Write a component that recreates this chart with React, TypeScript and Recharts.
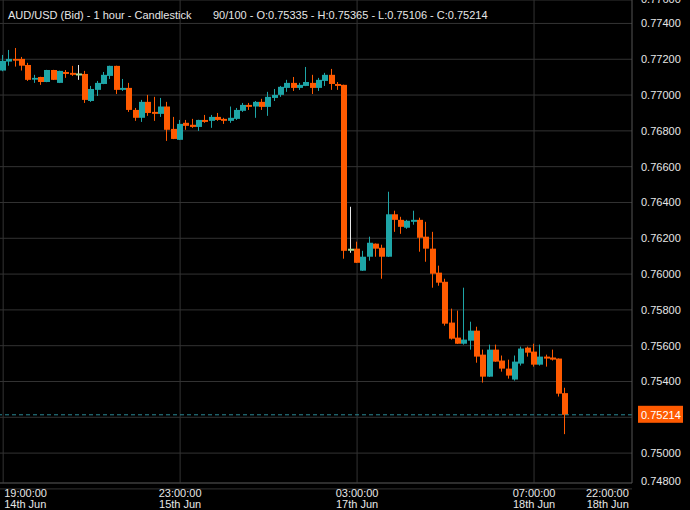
import React from 'react'
import { ComposedChart, Bar, XAxis, YAxis, CartesianGrid, ReferenceLine } from 'recharts'

const ORANGE = '#ff5a00'
const TEAL = '#1ea5a7'
const DOJI = '#a3d88e'
const TXT = '#e6e6e6'
const FONT = '"Liberation Sans", Arial, sans-serif'

// hourly candles (90 of 100 slots filled)
const opens = [
  0.77137, 0.77187, 0.77202, 0.77202, 0.77168, 0.77086, 0.77101, 0.77073, 0.77140, 0.77068,
  0.77129, 0.77124, 0.77115, 0.77118, 0.76967, 0.77029, 0.77062, 0.77107, 0.77163, 0.77029,
  0.77040, 0.76917, 0.76873, 0.76962, 0.76906, 0.76895, 0.76936, 0.76811, 0.76750, 0.76845,
  0.76834, 0.76822, 0.76861, 0.76856, 0.76878, 0.76867, 0.76856, 0.76867, 0.76912, 0.76945,
  0.76936, 0.76962, 0.76934, 0.76984, 0.77001, 0.77040, 0.77068, 0.77040, 0.77051, 0.77068,
  0.77040, 0.77079, 0.77113, 0.77062, 0.77057, 0.76136, 0.76142, 0.76019, 0.76097, 0.76170,
  0.76147, 0.76097, 0.76334, 0.76303, 0.76259, 0.76292, 0.76303, 0.76209, 0.76142, 0.76008,
  0.75957, 0.75729, 0.75645, 0.75611, 0.75628, 0.75684, 0.75550, 0.75427, 0.75578, 0.75517,
  0.75472, 0.75411, 0.75500, 0.75589, 0.75567, 0.75494, 0.75539, 0.75534, 0.75528, 0.75335,
]
const highs = [
  0.77224, 0.77252, 0.77263, 0.77213, 0.77180, 0.77113, 0.77102, 0.77141, 0.77141, 0.77136,
  0.77140, 0.77163, 0.77168, 0.77135, 0.77051, 0.77079, 0.77129, 0.77164, 0.77164, 0.77090,
  0.77068, 0.76928, 0.76973, 0.77001, 0.76990, 0.76984, 0.76962, 0.76878, 0.76861, 0.76861,
  0.76867, 0.76862, 0.76889, 0.76889, 0.76900, 0.76873, 0.76936, 0.76928, 0.76956, 0.76956,
  0.76967, 0.76979, 0.77018, 0.77034, 0.77051, 0.77085, 0.77101, 0.77068, 0.77157, 0.77113,
  0.77096, 0.77124, 0.77146, 0.77073, 0.77058, 0.76376, 0.76181, 0.76130, 0.76209, 0.76171,
  0.76164, 0.76460, 0.76354, 0.76320, 0.76303, 0.76354, 0.76315, 0.76292, 0.76236, 0.76047,
  0.75974, 0.75807, 0.75796, 0.75924, 0.75734, 0.75706, 0.75578, 0.75606, 0.75606, 0.75545,
  0.75522, 0.75545, 0.75595, 0.75595, 0.75611, 0.75606, 0.75550, 0.75578, 0.75529, 0.75365,
]
const lows = [
  0.77133, 0.77164, 0.77159, 0.77137, 0.77079, 0.77068, 0.77057, 0.77072, 0.77084, 0.77067,
  0.77096, 0.77107, 0.77085, 0.76956, 0.76962, 0.76995, 0.77061, 0.77090, 0.77006, 0.77023,
  0.76906, 0.76856, 0.76850, 0.76884, 0.76856, 0.76878, 0.76744, 0.76754, 0.76749, 0.76806,
  0.76817, 0.76800, 0.76845, 0.76817, 0.76856, 0.76839, 0.76845, 0.76861, 0.76906, 0.76917,
  0.76873, 0.76917, 0.76884, 0.76967, 0.76990, 0.77018, 0.77023, 0.77029, 0.77050, 0.77006,
  0.77023, 0.77051, 0.77029, 0.77029, 0.76086, 0.76119, 0.76062, 0.76018, 0.76075, 0.76097,
  0.75974, 0.76096, 0.76236, 0.76225, 0.76253, 0.76276, 0.76125, 0.76069, 0.75924, 0.75935,
  0.75712, 0.75634, 0.75610, 0.75606, 0.75578, 0.75505, 0.75394, 0.75426, 0.75510, 0.75455,
  0.75416, 0.75405, 0.75489, 0.75539, 0.75483, 0.75489, 0.75483, 0.75517, 0.75316, 0.75106,
]
const closes = [
  0.77191, 0.77202, 0.77192, 0.77164, 0.77085, 0.77096, 0.77073, 0.77140, 0.77085, 0.77135,
  0.77118, 0.77113, 0.77115, 0.76973, 0.77034, 0.77068, 0.77113, 0.77163, 0.77029, 0.77040,
  0.76917, 0.76873, 0.76962, 0.76900, 0.76895, 0.76936, 0.76806, 0.76755, 0.76839, 0.76828,
  0.76822, 0.76861, 0.76850, 0.76878, 0.76861, 0.76856, 0.76873, 0.76917, 0.76945, 0.76934,
  0.76962, 0.76934, 0.76990, 0.77001, 0.77046, 0.77068, 0.77040, 0.77057, 0.77073, 0.77040,
  0.77085, 0.77113, 0.77062, 0.77051, 0.76130, 0.76136, 0.76063, 0.76097, 0.76175, 0.76142,
  0.76097, 0.76334, 0.76303, 0.76264, 0.76298, 0.76303, 0.76203, 0.76142, 0.76002, 0.75952,
  0.75723, 0.75639, 0.75611, 0.75634, 0.75684, 0.75539, 0.75427, 0.75578, 0.75511, 0.75472,
  0.75433, 0.75511, 0.75584, 0.75561, 0.75494, 0.75539, 0.75528, 0.75522, 0.75332, 0.75214,
]

const slotCount = 100
const lastPrice = 0.75214
const yDomain = [0.74833, 0.77531]
const yTicks = [0.748, 0.75, 0.752, 0.754, 0.756, 0.758, 0.76, 0.762, 0.764, 0.766, 0.768, 0.77, 0.772, 0.774, 0.776]
const gridSlots = [0, 28, 56, 84]
const timeSlots = [0, 28, 56, 84, 99]
const timeLabels = ['19:00:00', '23:00:00', '03:00:00', '07:00:00', '22:00:00']
const dateLabels = ['14th Jun', '15th Jun', '17th Jun', '18th Jun', '18th Jun']

const rows = Array.from({ length: slotCount }, (_, t) =>
  t < opens.length ? { t, o: opens[t], h: highs[t], l: lows[t], c: closes[t] } : { t }
)

function Candle(props: any) {
  const { x, y, width, height, payload } = props
  if (!payload || payload.o == null) return <g />
  const { o, h, l, c } = payload
  const k = h > l ? Math.abs(height) / (h - l) : 0
  const yOf = (v: number) => y + (h - v) * k
  const color = o === c ? DOJI : c > o ? TEAL : ORANGE
  const wick = o === c ? '#e8e8e8' : color
  const bx = Math.round(x)
  const bw = Math.round(width)
  const top = yOf(Math.max(o, c))
  const bh = Math.max(yOf(Math.min(o, c)) - top, o === c ? 2 : 1)
  return (
    <g>
      <rect x={bx + 2} y={y} width={1} height={Math.abs(height)} fill={wick} />
      <rect x={bx} y={o === c ? top - 1 : top} width={bw} height={bh} fill={color} />
    </g>
  )
}

function XTick(props: any) {
  const { x, y, payload } = props
  const i = timeSlots.indexOf(payload.value)
  if (i < 0) return <g />
  const anchor = i === 0 ? 'start' : i === timeSlots.length - 1 ? 'end' : 'middle'
  const tx = i === 0 ? x + 1 : x
  return (
    <text fill={TXT} fontSize={11} fontFamily={FONT} textAnchor={anchor}>
      <tspan x={tx} y={y + 6}>{timeLabels[i]}</tspan>
      <tspan x={tx} y={y + 17}>{dateLabels[i]}</tspan>
    </text>
  )
}

function YTick(props: any) {
  const { x, y, payload } = props
  // the label under the last-price tag is hidden
  if (Math.abs(payload.value - lastPrice) < 0.0004) return <g />
  const ty = Math.min(Math.max(y, -1), 481)
  return (
    <text x={x + 1} y={ty + 4} fill={TXT} fontSize={11} fontFamily={FONT}>
      {Number(payload.value).toFixed(5)}
    </text>
  )
}

function PriceTag(props: any) {
  const vb = props.viewBox || {}
  const left = vb.x + vb.width + 6
  return (
    <g>
      <rect x={left} y={vb.y - 9} width={45} height={17} fill={ORANGE} />
      <text x={left + 3} y={vb.y + 4} fill="#fff" fontSize={11} fontFamily={FONT}>
        {lastPrice.toFixed(5)}
      </text>
    </g>
  )
}

export default function App() {
  return (
    <div style={{ position: 'relative', width: 690, height: 510, background: '#000' }}>
      <style>{'body{margin:0;background:#000}'}</style>
      <ComposedChart width={690} height={510} data={rows} margin={{ top: 0, right: 0, bottom: 0, left: 0 }}>
        <CartesianGrid stroke="#333" verticalValues={gridSlots} />
        <XAxis
          dataKey="t"
          type="category"
          height={27}
          interval={0}
          tickLine={false}
          axisLine={{ stroke: '#444' }}
          tick={<XTick />}
        />
        <YAxis
          orientation="right"
          width={58}
          domain={yDomain}
          ticks={yTicks}
          allowDataOverflow
          interval={0}
          tickLine={false}
          axisLine={{ stroke: '#555' }}
          tick={<YTick />}
        />
        <ReferenceLine
          y={lastPrice}
          stroke="#2b8794"
          strokeDasharray="4 3"
          label={(p: any) => <PriceTag {...p} />}
        />
        <Bar
          dataKey={(d: any) => (d.o == null ? null : [d.l, d.h])}
          barSize={6}
          shape={(p: any) => <Candle {...p} />}
          isAnimationActive={false}
        />
      </ComposedChart>
      <div
        style={{
          position: 'absolute', left: 8, top: 8, color: TXT, fontFamily: FONT,
          fontSize: 11, lineHeight: '14px', whiteSpace: 'pre',
        }}
      >
        AUD/USD (Bid) - 1 hour - Candlestick
      </div>
      <div
        style={{
          position: 'absolute', left: 213, top: 8, color: TXT, fontFamily: FONT,
          fontSize: 11, lineHeight: '14px', whiteSpace: 'pre',
        }}
      >
        90/100 - O:0.75335 - H:0.75365 - L:0.75106 - C:0.75214
      </div>
    </div>
  )
}
